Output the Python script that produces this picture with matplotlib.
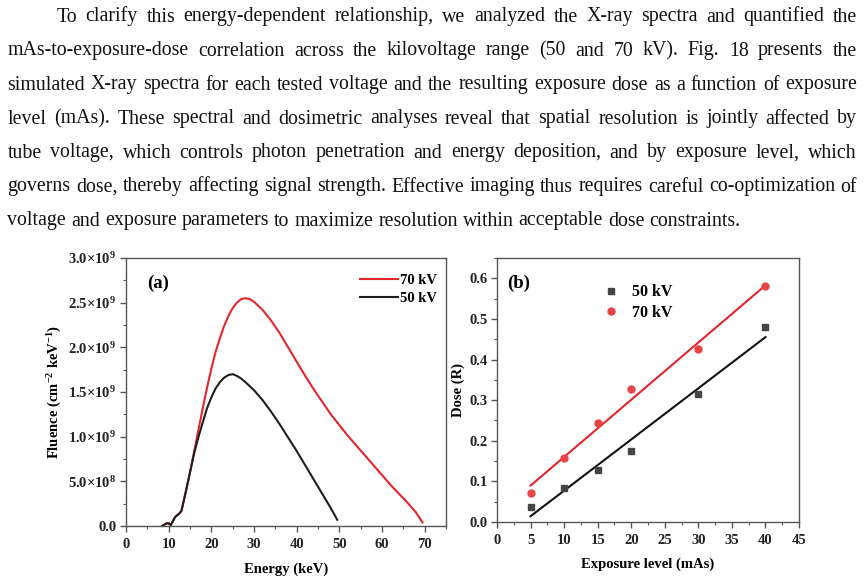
import numpy as np
import matplotlib
matplotlib.use("Agg")
import matplotlib.pyplot as plt
from matplotlib.ticker import AutoMinorLocator

# ---------------- data ----------------
paragraph_lines = [
    "To clarify this energy-dependent relationship, we analyzed the X-ray spectra and quantified the",
    "mAs-to-exposure-dose correlation across the kilovoltage range (50 and 70 kV). Fig. 18 presents the",
    "simulated X-ray spectra for each tested voltage and the resulting exposure dose as a function of exposure",
    "level (mAs). These spectral and dosimetric analyses reveal that spatial resolution is jointly affected by",
    "tube voltage, which controls photon penetration and energy deposition, and by exposure level, which",
    "governs dose, thereby affecting signal strength. Effective imaging thus requires careful co-optimization of",
    "voltage and exposure parameters to maximize resolution within acceptable dose constraints.",
]

energy_70 = [8.5, 9.5, 10.0, 10.5, 11.5, 12.5, 13.0, 14.0, 15.0, 16.0, 17.0, 18.0, 19.0, 20.0,
             21, 22, 23, 24, 25, 26, 27, 28, 29, 30, 32, 34, 36, 38, 40, 42, 44, 46, 48,
             50, 52, 54, 56, 58, 60, 62, 64, 66, 68, 69.5]
fluence_70 = [0.0, 0.03, 0.03, 0.01, 0.10, 0.14, 0.17, 0.38, 0.60, 0.84, 1.08, 1.32, 1.55, 1.76,
              1.95, 2.10, 2.24, 2.35, 2.44, 2.50, 2.54, 2.55, 2.54, 2.51, 2.42, 2.30, 2.16, 2.00,
              1.84, 1.68, 1.53, 1.39, 1.25, 1.13, 1.01, 0.90, 0.79, 0.68, 0.57, 0.46, 0.36,
              0.26, 0.15, 0.04]

energy_50 = [8.5, 9.5, 10.0, 10.5, 11.5, 12.5, 13.0, 14.0, 15.0, 16.0, 17.0, 18.0, 19.0, 20.0,
             21, 22, 23, 24, 25, 26, 27, 28, 30, 32, 34, 36, 38, 40, 42, 44, 46, 48, 49.5]
fluence_50 = [0.0, 0.03, 0.03, 0.01, 0.10, 0.14, 0.17, 0.38, 0.60, 0.82, 1.00, 1.16, 1.32, 1.44,
              1.54, 1.61, 1.66, 1.69, 1.70, 1.68, 1.65, 1.61, 1.52, 1.41, 1.28, 1.14, 0.99,
              0.84, 0.68, 0.52, 0.36, 0.20, 0.07]

mas = [5, 10, 15, 20, 30, 40]
dose_50 = [0.038, 0.083, 0.128, 0.175, 0.315, 0.480]
dose_70 = [0.072, 0.158, 0.243, 0.328, 0.425, 0.580]

xticks_a = [0, 10, 20, 30, 40, 50, 60, 70]
yticks_a = [0.0, 0.5, 1.0, 1.5, 2.0, 2.5, 3.0]  # x 1e9
ytick_labels_a = ["0.0", "5.0×10$^{8}$", "1.0×10$^{9}$", "1.5×10$^{9}$",
                  "2.0×10$^{9}$", "2.5×10$^{9}$", "3.0×10$^{9}$"]
xticks_b = [0, 5, 10, 15, 20, 25, 30, 35, 40, 45]
yticks_b = [0.0, 0.1, 0.2, 0.3, 0.4, 0.5, 0.6]

# ---------------- style ----------------
plt.rcParams.update({
    "font.family": ["Liberation Serif", "DejaVu Serif"],
    "font.weight": "bold",
    "mathtext.fontset": "custom",
    "mathtext.rm": "Liberation Serif:bold",
    "mathtext.bf": "Liberation Serif:bold",
    "mathtext.it": "Liberation Serif:italic:bold",
    "axes.edgecolor": "#555555",
    "axes.linewidth": 1.0,
    "xtick.color": "#555555",
    "ytick.color": "#555555",
    "xtick.labelcolor": "#222222",
    "ytick.labelcolor": "#222222",
})

W, H = 866, 584
fig = plt.figure(figsize=(W / 100, H / 100), dpi=100)
renderer = fig.canvas.get_renderer()

# ---------------- paragraph (justified) ----------------
FS = 14.3
x_left, x_right, indent = 7.5, 857.0, 49.0
base0, dy = 21.5, 34.0
space_w = 0.25 * FS * 100 / 72
for i, line in enumerate(paragraph_lines):
    words = line.split(" ")
    texts = [fig.text(0, 0, w, fontsize=FS, fontweight="normal", color="#111111",
                      ha="left", va="baseline") for w in words]
    widths = [t.get_window_extent(renderer).width for t in texts]
    xs = x_left + (indent if i == 0 else 0)
    if i < len(paragraph_lines) - 1:
        gap = (x_right - xs - sum(widths)) / (len(words) - 1)
    else:
        gap = space_w
    y = H - (base0 + i * dy)
    x = xs
    for t, w in zip(texts, widths):
        t.set_position((x / W, y / H))
        x += w + gap

# ---------------- panel (a) ----------------
TFS = 10.5
ax1 = fig.add_axes([126 / W, (H - 526) / H, 320 / W, 268 / H])
ax1.plot(energy_70, np.array(fluence_70) * 1e9, color="#e2262b", lw=1.5, label="70 kV")
ax1.plot(energy_50, np.array(fluence_50) * 1e9, color="#1e1e1e", lw=1.5, label="50 kV")
ax1.set_xlim(0, 75)
ax1.set_ylim(0, 3.0e9)
ax1.set_xticks(xticks_a)
ax1.set_xticklabels([str(v) for v in xticks_a])
ax1.set_yticks(np.array(yticks_a) * 1e9)
ax1.set_yticklabels(ytick_labels_a)
ax1.xaxis.set_minor_locator(AutoMinorLocator(2))
ax1.yaxis.set_minor_locator(AutoMinorLocator(2))
ax1.tick_params(which="major", direction="out", length=4, width=1.0, labelsize=TFS, pad=3)
ax1.tick_params(which="minor", direction="out", length=2.5, width=0.8)
ax1.tick_params(axis="x", pad=5)
for lab in ax1.get_xticklabels() + ax1.get_yticklabels():
    lab.set_fontweight("bold")
ax1.set_xlabel("Energy (keV)", fontsize=TFS, fontweight="bold", labelpad=8)
ax1.set_ylabel(r"Fluence (cm$^{-2}$ keV$^{-1}$)", fontsize=TFS, fontweight="bold", labelpad=3)
ax1.text(0.066, 0.905, "(a)", transform=ax1.transAxes, fontsize=13.5, fontweight="bold",
         ha="left", va="center")
ax1.legend(loc="upper right", bbox_to_anchor=(1.0, 0.975), frameon=False,
           handlelength=2.6, handletextpad=0.15, labelspacing=0.35,
           borderaxespad=0.2, prop={"weight": "bold", "size": TFS})

# ---------------- panel (b) ----------------
ax2 = fig.add_axes([497 / W, (H - 522) / H, 302 / W, 264 / H])
fit50 = np.polyfit(mas, dose_50, 1)
fit70 = np.polyfit(mas, dose_70, 1)
xr = np.array([min(mas), max(mas)])
ax2.plot(xr, np.polyval(fit70, xr), color="#e2262b", lw=1.5)
ax2.plot(xr, np.polyval(fit50, xr), color="#111111", lw=1.5)
ax2.plot(mas, dose_50, ls="none", marker="s", ms=4.2, color="#444444", label="50 kV")
ax2.plot(mas, dose_70, ls="none", marker="o", ms=5.0, color="#e84345", label="70 kV")
ax2.set_xlim(0, 45)
ax2.set_ylim(0, 0.65)
ax2.set_xticks(xticks_b)
ax2.set_xticklabels([str(v) for v in xticks_b])
ax2.set_yticks(yticks_b)
ax2.set_yticklabels([f"{v:.1f}" for v in yticks_b])
ax2.xaxis.set_minor_locator(AutoMinorLocator(2))
ax2.yaxis.set_minor_locator(AutoMinorLocator(2))
ax2.tick_params(which="major", direction="out", length=4, width=1.0, labelsize=TFS, pad=3)
ax2.tick_params(which="minor", direction="out", length=2.5, width=0.8)
ax2.tick_params(axis="x", pad=5)
for lab in ax2.get_xticklabels() + ax2.get_yticklabels():
    lab.set_fontweight("bold")
ax2.set_xlabel("Exposure level (mAs)", fontsize=TFS, fontweight="bold", labelpad=7)
ax2.set_ylabel("Dose (R)", fontsize=TFS, fontweight="bold", labelpad=3)
ax2.text(0.033, 0.905, "(b)", transform=ax2.transAxes, fontsize=13.5, fontweight="bold",
         ha="left", va="center")
ax2.legend(loc="upper left", bbox_to_anchor=(0.29, 0.955), frameon=False,
           handlelength=1.5, handletextpad=0.6, labelspacing=0.3,
           prop={"weight": "bold", "size": 11.5})

fig.savefig("out.png", dpi=100)
